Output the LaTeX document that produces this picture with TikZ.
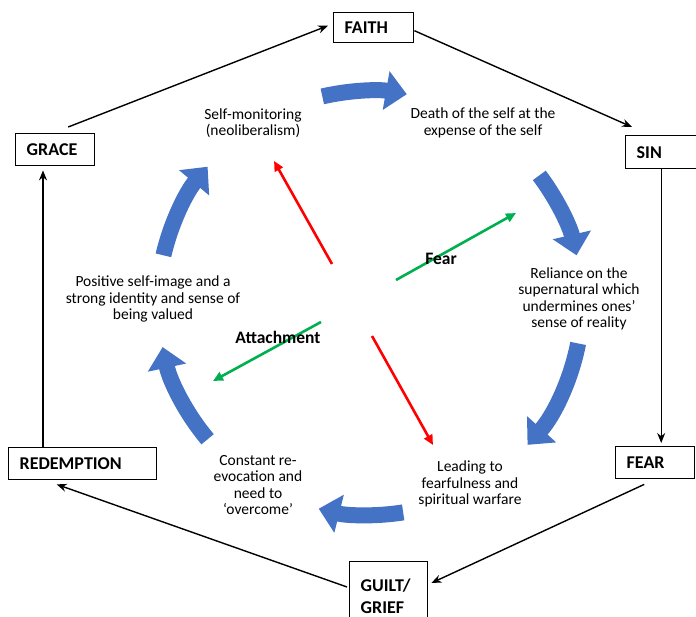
\documentclass[tikz,border=0pt]{standalone}
\usepackage{fontspec}
\setmainfont{Carlito}
\usetikzlibrary{arrows.meta,calc}

\definecolor{loopblue}{RGB}{68,114,196}
\definecolor{linkgreen}{RGB}{0,176,80}

\tikzset{
  stage/.style={draw, line width=1.4pt, anchor=north west, align=left, inner xsep=11pt, inner ysep=0pt,
    font=\fontsize{18}{22}\selectfont\bfseries},
  note/.style={align=center, font=\fontsize{15.5}{16.5}\selectfont},
  tag/.style={font=\fontsize{17.5}{19}\selectfont\bfseries},
  conn/.style={-{Stealth[length=10pt,width=8pt]}, line width=1.4pt},
  flow/.style={loopblue, line width=16pt, -{Triangle[length=21pt,width=38pt]}},
  push/.style={red, line width=2.6pt, -{Triangle[length=10pt,width=9pt]}},
  pull/.style={linkgreen, line width=2.6pt, -{Triangle[length=10pt,width=9pt]}}
}

\begin{document}
\begin{tikzpicture}[x=1pt, y=-1pt]
 \useasboundingbox (0,0) rectangle (696,617);

 \node[stage, text width=58pt, minimum height=30pt] (faithbox) at (333,12)  {FAITH};
 \node[stage, text width=53pt, minimum height=33pt] (sinbox)   at (625,135) {SIN};
 \node[stage, text width=57pt, minimum height=32pt] (fearbox)  at (615,446) {FEAR};
 \node[stage, text width=56pt, minimum height=70pt, inner ysep=7pt] (guiltbox) at (349,561) {GUILT/\\GRIEF};
 \node[stage, text width=126pt, minimum height=32pt] (redbox)  at (8,447)   {REDEMPTION};
 \node[stage, text width=57pt, minimum height=32pt] (gracebox) at (15,133)  {GRACE};

 \draw[conn] ([xshift=13pt,yshift=6pt]gracebox.north) to ([xshift=-5pt,yshift=2pt]faithbox.west);
 \draw[conn] ([yshift=-3pt]faithbox.east) to ([xshift=7pt,yshift=8pt]sinbox.north west);
 \draw[conn] ([xshift=-2pt]sinbox.south) to ([xshift=-2pt,yshift=3pt]sinbox.south |- fearbox.north);
 \draw[conn] ([xshift=-11pt,yshift=-5pt]fearbox.south) to ([xshift=3pt,yshift=-22pt]guiltbox.north east);
 \draw[conn] ([xshift=-2pt,yshift=-26pt]guiltbox.north west) to ([xshift=-26pt,yshift=-4pt]redbox.south);
 \draw[conn] ([xshift=35pt]redbox.north west) to ([xshift=35pt,yshift=-4pt]redbox.north west |- gracebox.south);

 \coordinate (ring) at (370,303);
 \foreach \a/\b in {-103/-80, -37/-13, 11/42, 81/104, 140/168, 193/220}
  \draw[flow] ($(ring)+(\a:212)$) arc[start angle=\a, end angle=\b, radius=212];

 \node[note] (selfmon)  at (253,123) {Self-monitoring\\(neoliberalism)};
 \node[note] (death)    at (483,123) {Death of the self at the\\expense of the self};
 \node[note] (reliance) at (579,299) {Reliance on the\\supernatural which\\undermines ones'\\sense of reality};
 \node[note] (leading)  at (470,484) {Leading to\\fearfulness and\\spiritual warfare};
 \node[note] (constant) at (258,485) {Constant re-\\evocation and\\need to\\`overcome'};
 \node[note] (positive) at (153,299) {Positive self-image and a\\strong identity and sense of\\being valued};

 \coordinate (upA) at (332,264);
 \coordinate (upB) at (274,161);
 \coordinate (dnA) at (372,336);
 \coordinate (dnB) at (433,445);
 \coordinate (rtA) at (396,280);
 \coordinate (rtB) at (516,213);
 \coordinate (ltA) at (321,322);
 \coordinate (ltB) at (213,381);

 \draw[push] (upA) to (upB);
 \draw[push] (dnA) to (dnB);
 \draw[pull] (rtA) to (rtB);
 \draw[pull] (ltA) to (ltB);

 \node[tag] (feartag)   at (441,259) {Fear};
 \node[tag] (attachtag) at (278,337) {Attachment};
\end{tikzpicture}
\end{document}
